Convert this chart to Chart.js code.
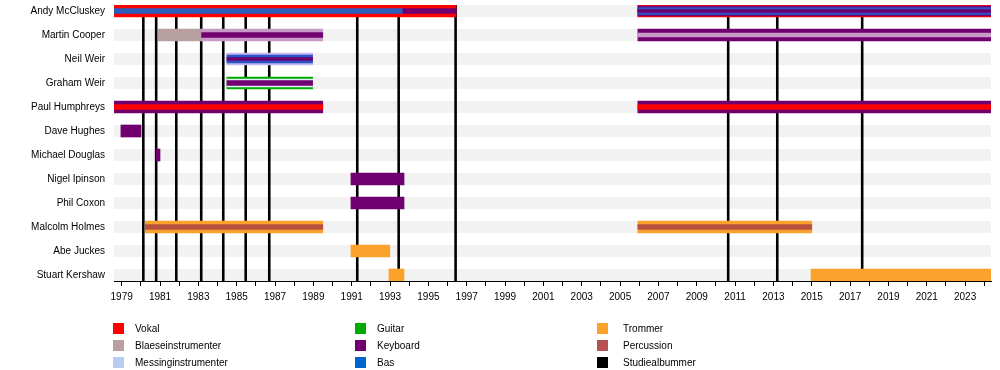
<!DOCTYPE html>
<html>
<head>
<meta charset="utf-8">
<script src="https://cdn.jsdelivr.net/npm/chart.js@4/dist/chart.umd.min.js"></script>
<style>
    body { margin: 0; background: #fff; font-family: "Liberation Sans", Arial, sans-serif; }
    #wrap { position: relative; width: 1000px; height: 370px; }
    .key { position: absolute; font-size: 10px; color: #000; line-height: 12px; white-space: nowrap; }
    .key span { position: absolute; left: 0; top: 0; width: 11px; height: 11px; }
</style>
</head>
<body>
<div id="wrap">
    <canvas id="chart" width="1000" height="370"></canvas>
    <div id="legend"></div>
</div>
<script>
// medlemmer, oppefra og ned
const members = ['Andy McCluskey', 'Martin Cooper', 'Neil Weir', 'Graham Weir', 'Paul Humphreys', 'Dave Hughes',
    'Michael Douglas', 'Nigel Ipinson', 'Phil Coxon', 'Malcolm Holmes', 'Abe Juckes', 'Stuart Kershaw'];
const startYear = 1978.6;
const endYear = 2024.35;
const albumYears = [1980.13, 1980.8, 1981.85, 1983.15, 1984.3, 1985.47, 1986.7, 1991.29, 1993.45, 1996.42, 2010.64, 2013.2, 2017.63];

// [medlem, fra, til]
const vocals = [[0, 1978.6, 1996.44], [0, 2005.93, 2024.35]];
const vocalsInner = [[4, 1978.6, 1989.49], [4, 2005.93, 2024.35]];
const keyboards = [[4, 1978.6, 1989.49], [4, 2005.93, 2024.35], [1, 2005.93, 2024.35], [5, 1978.96, 1980.01],
    [6, 1980.8, 1981.0], [7, 1990.96, 1993.73], [8, 1990.96, 1993.73]];
const keyboardsBand = [[0, 2005.93, 2024.35]];
const keyboardsInner = [[0, 1993.67, 1996.44], [1, 1983.17, 1989.49], [3, 1984.49, 1988.96]];
const keyboardsCore = [[0, 2005.93, 2024.35], [2, 1984.49, 1988.96]];
const woodwind = [[1, 1980.91, 1983.17]];
const woodwindKeys = [[1, 1983.17, 1989.49]];
const woodwindInner = [[1, 2005.93, 2024.35]];
const brass = [[2, 1984.49, 1988.96]];
const brassInner = [[3, 1984.49, 1988.96]];
const guitar = [[3, 1984.49, 1988.96]];
const bass = [[0, 1978.6, 1993.67]];
const bassBand = [[0, 2005.93, 2024.35]];
const bassWide = [[2, 1984.49, 1988.96]];
const drums = [[9, 1980.23, 1989.49], [9, 2005.93, 2015.0], [10, 1990.96, 1992.99], [11, 1992.94, 1993.73], [11, 2014.96, 2024.35]];
const percussion = [[9, 1980.23, 1989.49], [9, 2005.93, 2015.0]];

const legendLabels = ['Vokal', 'Blaeseinstrumenter', 'Messinginstrumenter', 'Guitar', 'Keyboard', 'Bas', 'Trommer', 'Percussion', 'Studiealbummer'];
const legendColors = ['#ff0000', '#b8a0a2', '#b8ccf2', '#00aa00', '#700070', '#0066cc', '#faa22c', '#b55150', '#000000'];

// lag, nederst til øverst: [spenn, farge, tykkelse]
const layers = [
    [vocals, '#ff0000', 12],
    [keyboards, '#700070', 12],
    [woodwind, '#b8a0a2', 12],
    [woodwindKeys, '#c898c8', 12],
    [brass, '#c6b6f2', 12],
    [guitar, '#00aa00', 12],
    [drums, '#faa22c', 12],
    [keyboardsBand, '#700070', 10],
    [brassInner, '#e4ecf6', 8],
    [bassWide, '#2a55c8', 8],
    [bassBand, '#2a55c8', 7],
    [bass, '#2a5cc0', 5],
    [keyboardsInner, '#700070', 5],
    [vocalsInner, '#ff0000', 5],
    [woodwindInner, '#c898c8', 4],
    [percussion, '#b85040', 5],
    [keyboardsCore, '#700070', 3]
];

const datasets = layers.map(([spans, color, thick], i) => ({
    data: spans.map(s => ({ x: [s[1], s[2]], y: s[0] })),
    backgroundColor: color,
    barThickness: thick,
    grouped: false,
    order: layers.length - i
}));

// grå striper og albumlinjer bak stolpene
const backdrop = {
    id: 'backdrop',
    beforeDatasetsDraw(chart) {
        const { ctx, chartArea, scales } = chart;
        ctx.save();
        ctx.fillStyle = '#f2f2f2';
        members.forEach((m, i) => {
            const y = scales.y.getPixelForValue(i);
            ctx.fillRect(chartArea.left, y - 6, chartArea.right - chartArea.left, 12);
        });
        ctx.strokeStyle = '#000';
        ctx.lineWidth = 2.6;
        for (const yr of albumYears) {
            const x = scales.x.getPixelForValue(yr);
            ctx.beginPath();
            ctx.moveTo(x, chartArea.top);
            ctx.lineTo(x, chartArea.bottom);
            ctx.stroke();
        }
        ctx.restore();
    }
};

new Chart(document.getElementById('chart'), {
    type: 'bar',
    data: { datasets: datasets },
    options: {
        indexAxis: 'y',
        responsive: false,
        animation: false,
        layout: { padding: { top: 5, right: 9, bottom: 60, left: 0 } },
        plugins: { legend: { display: false }, tooltip: { enabled: false } },
        scales: {
            x: {
                type: 'linear',
                min: startYear,
                max: endYear,
                grid: { drawOnChartArea: false, drawTicks: true, tickLength: 5, color: '#000' },
                border: { color: '#000', width: 1 },
                ticks: {
                    stepSize: 1,
                    includeBounds: false,
                    autoSkip: false,
                    maxRotation: 0,
                    color: '#000',
                    padding: 5,
                    font: { family: '"Liberation Sans", Arial, sans-serif', size: 10 },
                    callback: v => (v % 2 === 1 ? String(v) : '')
                },
                afterFit: s => { s.height = 29; s.paddingLeft = 0; s.paddingRight = 0; }
            },
            y: {
                type: 'linear',
                reverse: true,
                offset: false,
                min: -0.25,
                max: 11.25,
                grid: { display: false, drawTicks: false, offset: false },
                border: { display: false },
                ticks: {
                    stepSize: 1,
                    includeBounds: false,
                    autoSkip: false,
                    color: '#000',
                    padding: 9,
                    font: { family: '"Liberation Sans", Arial, sans-serif', size: 10 },
                    callback: v => members[v] ?? ''
                },
                afterFit: s => { s.width = 114; s.paddingTop = 0; s.paddingBottom = 0; }
            }
        }
    },
    plugins: [backdrop]
});

// forklaring i tre kolonner
const cols = [113, 355, 597];
const legend = document.getElementById('legend');
legendLabels.forEach((label, i) => {
    const div = document.createElement('div');
    div.className = 'key';
    div.style.left = cols[Math.floor(i / 3)] + 'px';
    div.style.top = (323 + (i % 3) * 17) + 'px';
    div.style.paddingLeft = (i >= 6 ? 26 : 22) + 'px';
    div.innerHTML = `<span style="background:${legendColors[i]}"></span>${label}`;
    legend.appendChild(div);
});
</script>
</body>
</html>
